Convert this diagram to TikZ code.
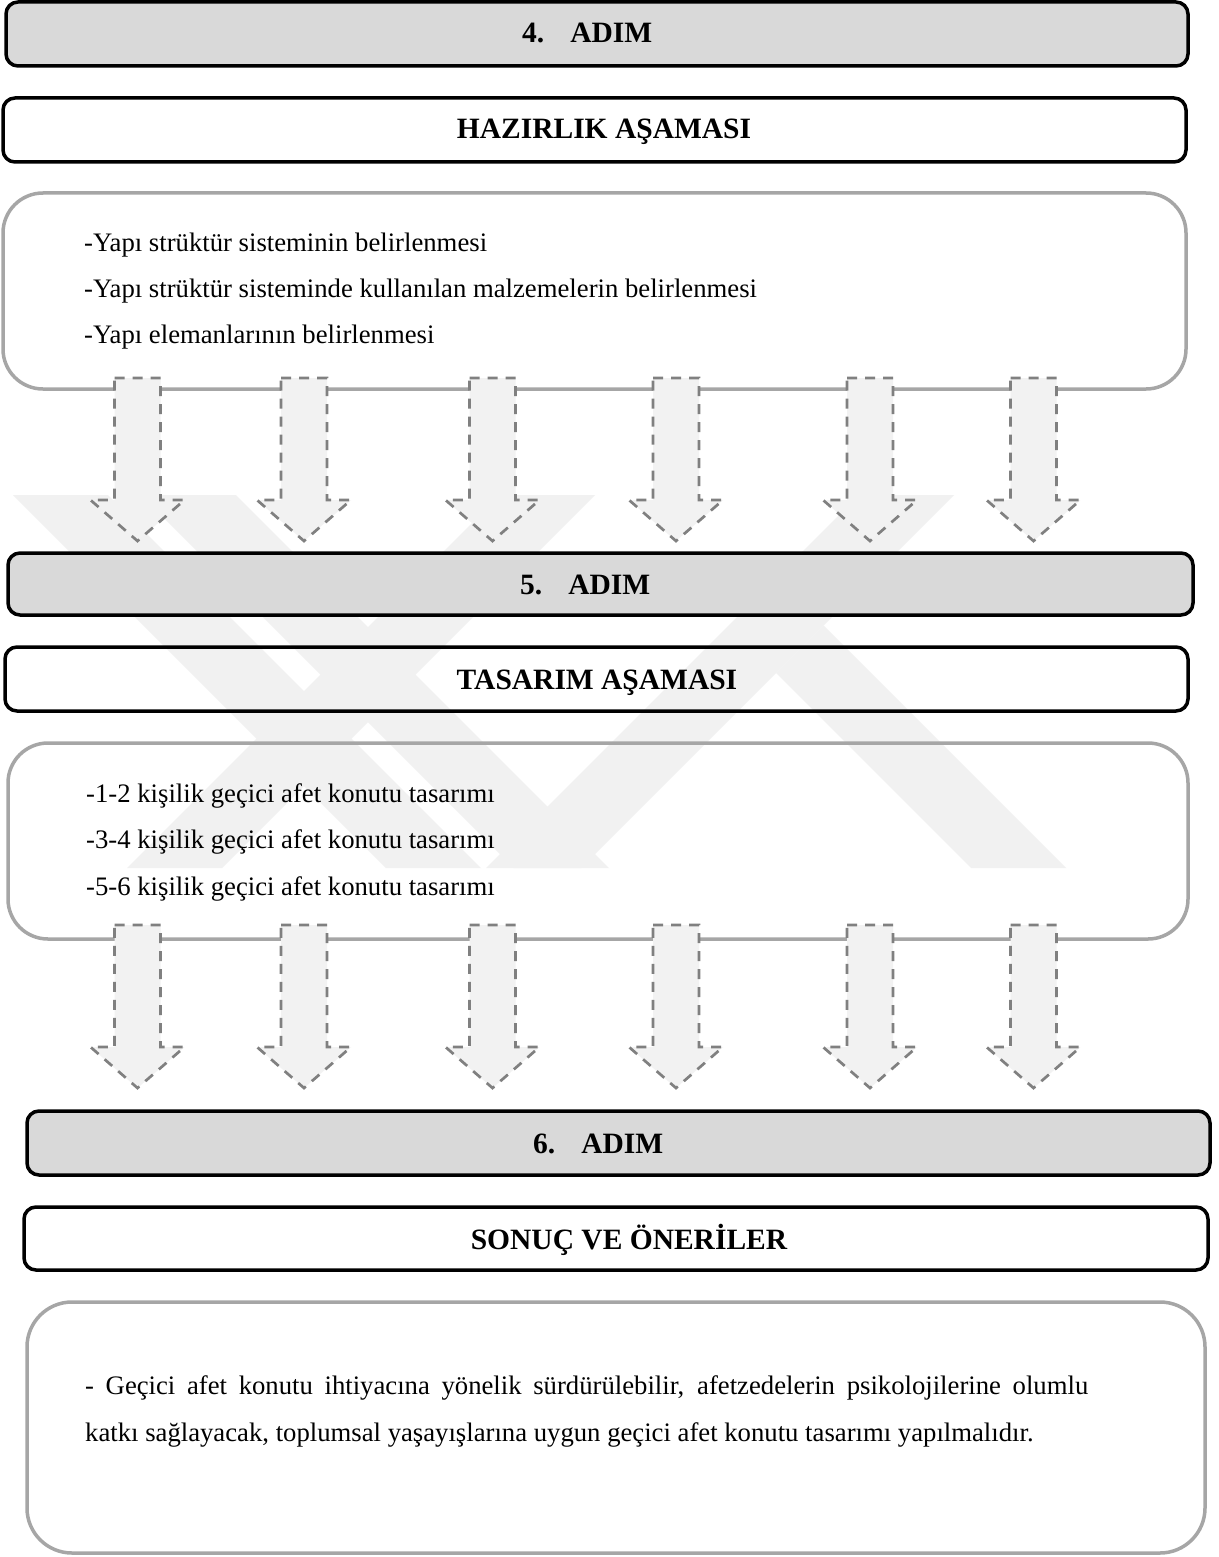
\documentclass[tikz,border=0pt]{standalone}
\usepackage{fontspec}
\setmainfont{Liberation Serif}
\usetikzlibrary{fit}
\definecolor{adimgray}{HTML}{D9D9D9}
\definecolor{boxgray}{HTML}{A6A6A6}
\definecolor{arrowfill}{HTML}{F2F2F2}
\definecolor{arrowline}{HTML}{808080}
\definecolor{wmgray}{HTML}{F1F1F1}
\tikzset{
  adimbox/.style={draw=black, line width=3.5pt, rounded corners=12pt, fill=adimgray, inner sep=0pt},
  titlebox/.style={draw=black, line width=3.5pt, rounded corners=12pt, inner sep=0pt},
  listbox/.style={draw=boxgray, line width=3.5pt, rounded corners=40pt, inner sep=0pt},
  headtxt/.style={font=\fontsize{29.5}{34}\selectfont\bfseries, inner sep=0pt, anchor=base},
  headtxtw/.style={font=\fontsize{29.5}{34}\selectfont\bfseries, inner sep=0pt, anchor=base west},
  bodytxt/.style={font=\fontsize{26.7}{32}\selectfont, inner sep=0pt, anchor=base west},
  downarrow/.style={draw=arrowline, fill=arrowfill, line width=2.7pt, dash pattern=on 10pt off 8pt},
  wm/.style={fill=wmgray},
  blockdown/.pic={\draw[downarrow] (-23,0) -- (23,0) -- (23,122) -- (47,122) -- (0,163) -- (-47,122) -- (-23,122) -- cycle;}
}
\begin{document}
\begin{tikzpicture}[x=1pt,y=-1pt]
\useasboundingbox (0,0) rectangle (1218,1557);
\fill[white] (0,0) rectangle (1218,1557);
% watermark
\begin{scope}
\clip (0,495) rectangle (1218,868);
\fill[wm] (141,495) -- (236,495) -- (609,868) -- (514,868) -- cycle;
\fill[wm] (13,495) -- (108,495) -- (481,868) -- (386,868) -- cycle;
\fill[wm] (500,495) -- (595,495) -- (222,868) -- (127,868) -- cycle;
\fill[wm] (859,495) -- (954,495) -- (581,868) -- (486,868) -- cycle;
\fill[wm] (776,673) -- (823.5,625.5) -- (1066,868) -- (971,868) -- cycle;
\end{scope}
% step 4
\node[adimbox, fit={(6,2) (1188,66)}] (adim4) {};
\node[headtxtw] (t4) at (522,43) {4.\hspace{26pt}ADIM};
\node[titlebox, fit={(3,98) (1186,162)}] (hazirlik) {};
\node[headtxt] (thaz) at (604,139) {HAZIRLIK AŞAMASI};
\node[listbox, fit={(3,193) (1186,389)}] (list1) {};
\node[bodytxt] (l1a) at (84,251) {-Yapı strüktür sisteminin belirlenmesi};
\node[bodytxt] (l1b) at (84,297) {-Yapı strüktür sisteminde kullanılan malzemelerin belirlenmesi};
\node[bodytxt] (l1c) at (84,343) {-Yapı elemanlarının belirlenmesi};
\foreach \c in {137.5,304,492.5,676,870,1033.5} \pic at (\c,378) {blockdown};
% step 5
\node[adimbox, fit={(8,553) (1193,615)}] (adim5) {};
\node[headtxtw] (t5) at (520,594) {5.\hspace{26pt}ADIM};
\node[titlebox, fit={(5,647) (1188,711)}] (tasarim) {};
\node[headtxt] (ttas) at (597,689) {TASARIM AŞAMASI};
\node[listbox, fit={(8,743) (1188,939)}] (list2) {};
\node[bodytxt] (l2a) at (86,802) {-1-2 kişilik geçici afet konutu tasarımı};
\node[bodytxt] (l2b) at (86,848) {-3-4 kişilik geçici afet konutu tasarımı};
\node[bodytxt] (l2c) at (86,895) {-5-6 kişilik geçici afet konutu tasarımı};
\foreach \c in {137.5,304,492.5,676,870,1033.5} \pic at (\c,925) {blockdown};
% step 6
\node[adimbox, fit={(27,1111) (1210,1175)}] (adim6) {};
\node[headtxtw] (t6) at (533,1153) {6.\hspace{26pt}ADIM};
\node[titlebox, fit={(24,1207) (1208,1270)}] (sonuc) {};
\node[headtxt] (tson) at (629,1249) {SONUÇ VE ÖNERİLER};
\node[listbox, rounded corners=45pt, fit={(27,1302) (1205,1553)}] (list3) {};
\node[bodytxt] (p1) at (85,1394) {\makebox[1003pt][s]{- Geçici afet konutu ihtiyacına yönelik sürdürülebilir, afetzedelerin psikolojilerine olumlu}};
\node[bodytxt] (p2) at (85,1441) {katkı sağlayacak, toplumsal yaşayışlarına uygun geçici afet konutu tasarımı yapılmalıdır.};
\end{tikzpicture}
\end{document}
